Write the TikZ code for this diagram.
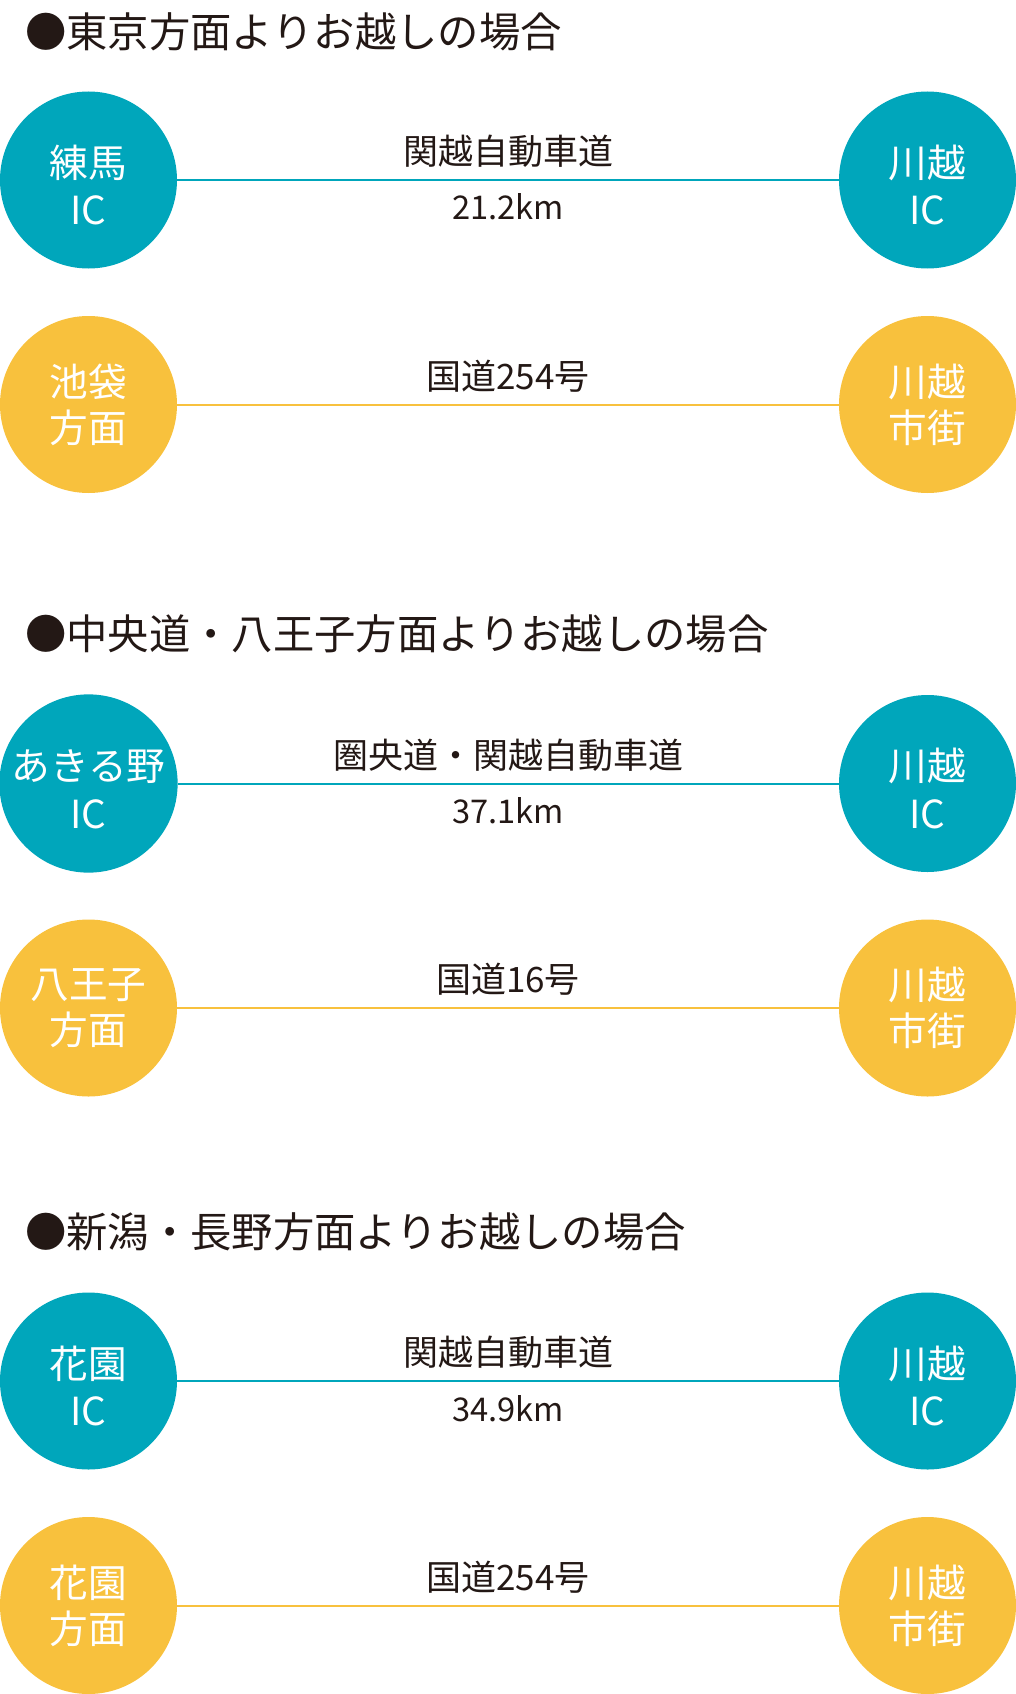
\documentclass[tikz,border=0pt]{standalone}
\usepackage{fontspec}
\setmainfont{Noto Sans CJK JP}
\newfontfamily\headfont{Noto Sans CJK JP}
\usetikzlibrary{calc}
\definecolor{icteal}{HTML}{00A6BB}
\definecolor{roadyellow}{HTML}{F8C13D}
\definecolor{inkdark}{HTML}{231815}
% taller first line, so that a name over "IC" sits a little lower
\newcommand\icstrut{\rule{0pt}{32pt}}

\tikzset{
  spot/.style={circle,fill=#1,inner sep=0pt,minimum size=132.75pt,
    text=white,align=center,
    font=\fontsize{29pt}{34.5pt}\selectfont},
  road/.style={draw=#1,line width=1.5pt},
  roadname/.style={text=inkdark,inner sep=0pt,anchor=base,
    font=\fontsize{26.25pt}{30pt}\selectfont},
  kmlabel/.style={roadname,font=\fontsize{24.5pt}{30pt}\selectfont},
  heading/.style={text=inkdark,inner sep=0pt,anchor=west,
    font=\headfont\fontsize{31pt}{36pt}\selectfont}
}

\begin{document}
\begin{tikzpicture}[x=0.75pt,y=-0.75pt]
\useasboundingbox (0,0) rectangle (1016,1694);
\def\xfrom{88.5}
\def\xto{927.5}
% headings
\node[heading] (tokyo)   at (25,31.5)  {●東京方面よりお越しの場合};
\node[heading] (chuo)    at (25,633.5) {●中央道・八王子方面よりお越しの場合};
\node[heading] (niigata) at (25,1232)  {●新潟・長野方面よりお越しの場合};
% expressways, with distance below the line
\foreach \y/\from/\via/\dist [count=\i] in {
    180/{\icstrut 練馬\\[1pt]IC}/関越自動車道/21.2km,
    783.5/{\icstrut あきる野\\[1pt]IC}/圏央道・関越自動車道/37.1km,
    1381/{\icstrut 花園\\[1pt]IC}/関越自動車道/34.9km}
{%
  \node[spot=icteal] (ic\i) at (\xfrom,\y) {\from};
  \node[spot=icteal] (kawagoeic\i) at (\xto,\y) {\icstrut 川越\\[1pt]IC};
  \draw[road=icteal] (ic\i) -- (kawagoeic\i)
    node[midway,roadname,yshift=11.5pt] (way\i) {\via}
    node[midway,kmlabel,yshift=-30pt] (km\i) {\dist};
}
% national roads
\foreach \y/\from/\via [count=\i] in {
    404.5/{池袋\\方面}/国道254号,
    1008/{八王子\\方面}/国道16号,
    1605.5/{花園\\方面}/国道254号}
{%
  \node[spot=roadyellow] (area\i) at (\xfrom,\y) {\from};
  \node[spot=roadyellow] (kawagoecity\i) at (\xto,\y) {川越\\市街};
  \draw[road=roadyellow] (area\i) -- (kawagoecity\i)
    node[midway,roadname,yshift=11.5pt] (route\i) {\via};
}
\end{tikzpicture}
\end{document}
